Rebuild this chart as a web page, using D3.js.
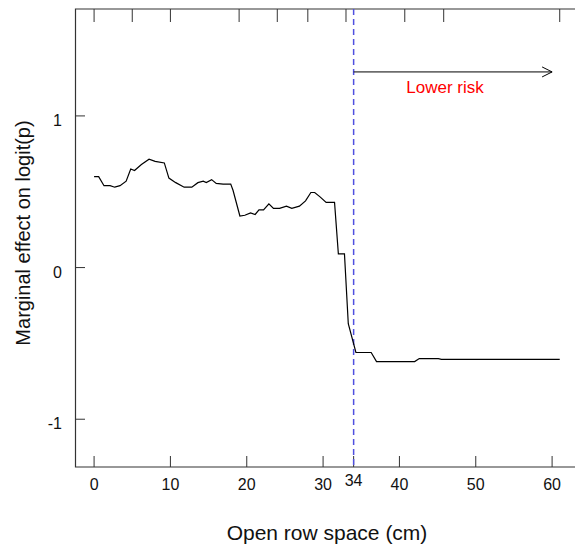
<!DOCTYPE html>
<html>
<head>
<meta charset="utf-8">
<script src="https://cdn.jsdelivr.net/npm/d3@7"></script>
<style>
  body { margin: 0; background: #fff; }
  svg { display: block; font-family: "Liberation Sans", Arial, sans-serif; }
</style>
</head>
<body>
<div id="chart"></div>
<script>
// curve: open row space (cm) vs marginal effect
const xs = [0, 0.6, 1.3, 2.1, 2.7, 3.4, 4.2, 4.8, 5.3, 6.2, 7.2, 8.0, 9.2, 9.8, 10.7, 11.8, 12.8, 13.6, 14.3, 14.7, 15.4, 16.0, 16.9, 17.9, 18.2, 19.1, 19.75, 20.5, 21.1, 21.6, 22.2, 22.9, 23.5, 24.3, 25.2, 25.9, 26.9, 27.7, 28.4, 28.9, 29.6, 30.4, 31.5, 32.0, 32.8, 33.3, 34.3, 36.3, 37.0, 42.0, 42.6, 45.1, 45.5, 61.0]
const ys = [0.60, 0.60, 0.54, 0.54, 0.53, 0.54, 0.57, 0.65, 0.64, 0.68, 0.715, 0.70, 0.69, 0.59, 0.56, 0.53, 0.53, 0.56, 0.57, 0.56, 0.58, 0.555, 0.55, 0.55, 0.51, 0.34, 0.345, 0.36, 0.35, 0.38, 0.38, 0.42, 0.39, 0.39, 0.405, 0.39, 0.405, 0.44, 0.495, 0.495, 0.466, 0.43, 0.43, 0.09, 0.09, -0.37, -0.56, -0.56, -0.62, -0.62, -0.60, -0.60, -0.605, -0.605]

// rug ticks along the top
const rug = [0, 5, 10, 19, 24, 28, 33, 40.7, 45.8, 61]

const xTicks = [0, 10, 20, 30, 40, 50, 60]
const yTicks = [-1, 0, 1]
const threshold = 34

const width = 575
const height = 548
const mLeft = 75, mRight = 575, mTop = 9, mBottom = 467

const svg = d3.select("#chart")
  .append("svg")
    .attr("width", width)
    .attr("height", height)

const x = d3.scaleLinear().domain([-2.5, 63]).range([mLeft, mRight])
const y = d3.scaleLinear().domain([-1.315, 1.705]).range([mBottom, mTop])

const axisColor = "#333"
const textColor = "#111"

// frame: left, top, bottom lines (open on the right)
svg.append("path")
  .attr("d", `M${mRight},${mTop}H${mLeft + 0.5}V${mBottom}H${mRight}`)
  .attr("fill", "none")
  .attr("stroke", axisColor)
  .attr("stroke-width", 1.2)

// bottom ticks pointing inward
svg.append("g").selectAll("line")
  .data(xTicks.concat([threshold]))
  .join("line")
    .attr("x1", d => x(d)).attr("x2", d => x(d))
    .attr("y1", mBottom).attr("y2", mBottom - 11)
    .attr("stroke", axisColor)

svg.append("g").selectAll("text")
  .data(xTicks)
  .join("text")
    .attr("x", d => x(d))
    .attr("y", mBottom + 23)
    .attr("text-anchor", "middle")
    .attr("font-size", 16)
    .attr("fill", textColor)
    .text(d => d)

svg.append("text")
  .attr("x", x(threshold))
  .attr("y", mBottom + 19)
  .attr("text-anchor", "middle")
  .attr("font-size", 16)
  .attr("fill", textColor)
  .text(threshold)

// left ticks
svg.append("g").selectAll("line")
  .data(yTicks)
  .join("line")
    .attr("x1", mLeft).attr("x2", mLeft + 10)
    .attr("y1", d => y(d)).attr("y2", d => y(d))
    .attr("stroke", axisColor)

svg.append("g").selectAll("text")
  .data(yTicks)
  .join("text")
    .attr("x", mLeft - 13)
    .attr("y", d => y(d) + 10)
    .attr("text-anchor", "end")
    .attr("font-size", 16)
    .attr("fill", textColor)
    .text(d => d)

// rug on top
svg.append("g").selectAll("line")
  .data(rug)
  .join("line")
    .attr("x1", d => x(d)).attr("x2", d => x(d))
    .attr("y1", mTop).attr("y2", mTop + 13)
    .attr("stroke", axisColor)

// axis titles
svg.append("text")
  .attr("x", 327)
  .attr("y", 540)
  .attr("text-anchor", "middle")
  .attr("font-size", 21)
  .attr("fill", textColor)
  .text("Open row space (cm)")

svg.append("text")
  .attr("transform", `translate(30,233) rotate(-90)`)
  .attr("text-anchor", "middle")
  .attr("font-size", 20)
  .attr("fill", textColor)
  .text("Marginal effect on logit(p)")

// threshold line
svg.append("line")
  .attr("x1", x(threshold)).attr("x2", x(threshold))
  .attr("y1", mTop).attr("y2", mBottom)
  .attr("stroke", "#5050e0")
  .attr("stroke-width", 1.5)
  .attr("stroke-dasharray", "6,4")

// curve
const pts = xs.map((v, i) => [v, ys[i]])
svg.append("path")
  .datum(pts)
  .attr("fill", "none")
  .attr("stroke", "#000")
  .attr("stroke-width", 1.2)
  .attr("d", d3.line().x(d => x(d[0])).y(d => y(d[1])))

// arrow with label
const arrowY = y(1.29)
const ax1 = x(threshold), ax2 = x(60)
svg.append("line")
  .attr("x1", ax1).attr("x2", ax2)
  .attr("y1", arrowY).attr("y2", arrowY)
  .attr("stroke", "#000")
svg.append("path")
  .attr("d", `M${ax2 - 10},${arrowY - 5}L${ax2},${arrowY}L${ax2 - 10},${arrowY + 5}`)
  .attr("fill", "none")
  .attr("stroke", "#000")

svg.append("text")
  .attr("x", 445)
  .attr("y", 93)
  .attr("text-anchor", "middle")
  .attr("font-size", 17)
  .attr("fill", "#ff0000")
  .text("Lower risk")
</script>
</body>
</html>
